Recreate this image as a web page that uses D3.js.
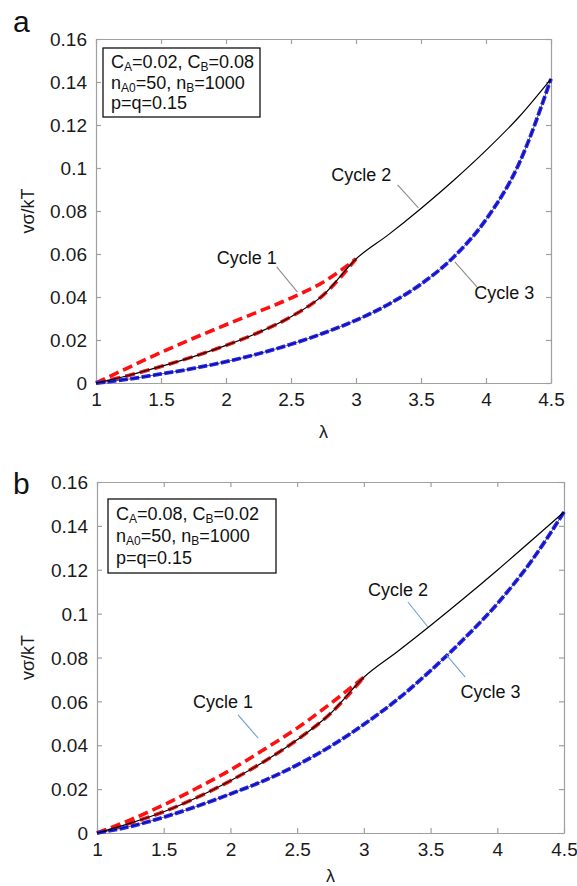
<!DOCTYPE html>
<html>
<head>
<meta charset="utf-8">
<script src="https://cdn.jsdelivr.net/npm/d3@7"></script>
<style>
  body { margin: 0; background: #fff; }
  svg { display: block; font-family: "Liberation Sans", Arial, sans-serif; }
</style>
</head>
<body>
<div id="chart"></div>
<script>
// data
const lamCycle1 = [1, 1.25, 1.5, 1.75, 2, 2.25, 2.5, 2.75, 3];
const lamCycle2 = [3, 3.25, 3.5, 3.75, 4, 4.25, 4.5];
const lamCycle3 = [1, 1.25, 1.5, 1.75, 2, 2.25, 2.5, 2.75, 3, 3.25, 3.5, 3.75, 4, 4.25, 4.5];

// panel a
const aCycle1Upper = [0, 0.0072, 0.0142, 0.0208, 0.0271, 0.0332, 0.0395, 0.047, 0.0577];
const aCycle1Lower = [0, 0.0035, 0.0077, 0.0123, 0.0175, 0.0235, 0.0308, 0.041, 0.0577];
const aCycle2 = [0.0577, 0.069, 0.0812, 0.0942, 0.1082, 0.1235, 0.1415];
const aCycle3 = [0, 0.0018, 0.0042, 0.0068, 0.0099, 0.0136, 0.018, 0.0232, 0.0292, 0.0366, 0.046, 0.0585, 0.076, 0.1015, 0.1415];

// panel b
const bCycle1Upper = [0, 0.006, 0.0128, 0.0205, 0.0287, 0.038, 0.0478, 0.059, 0.071];
const bCycle1Lower = [0, 0.0045, 0.0097, 0.0162, 0.0238, 0.0325, 0.0425, 0.0545, 0.071];
const bCycle2 = [0.071, 0.0826, 0.0946, 0.107, 0.1198, 0.133, 0.1463];
const bCycle3 = [0, 0.003, 0.0072, 0.0122, 0.0178, 0.0238, 0.031, 0.0395, 0.0495, 0.0608, 0.074, 0.0885, 0.1045, 0.1235, 0.1463];

// ticks
const xTicks = [1, 1.5, 2, 2.5, 3, 3.5, 4, 4.5];
const xTickLabels = ["1", "1.5", "2", "2.5", "3", "3.5", "4", "4.5"];
const yTicks = [0, 0.02, 0.04, 0.06, 0.08, 0.1, 0.12, 0.14, 0.16];
const yTickLabels = ["0", "0.02", "0.04", "0.06", "0.08", "0.1", "0.12", "0.14", "0.16"];

// legend text per panel
const aLegend = [
  [["C", ""], ["A", "sub"], ["=0.02, C", ""], ["B", "sub"], ["=0.08", ""]],
  [["n", ""], ["A0", "sub"], ["=50, n", ""], ["B", "sub"], ["=1000", ""]],
  [["p=q=0.15", ""]]
];
const bLegend = [
  [["C", ""], ["A", "sub"], ["=0.08, C", ""], ["B", "sub"], ["=0.02", ""]],
  [["n", ""], ["A0", "sub"], ["=50, n", ""], ["B", "sub"], ["=1000", ""]],
  [["p=q=0.15", ""]]
];

// annotations: label position and leader line, in data units [lambda, value]
const aNotes = [
  { text: "Cycle 1", at: [2.16, 0.0581], from: [2.39, 0.054], to: [2.55, 0.0423] },
  { text: "Cycle 2", at: [3.04, 0.0967], from: [3.32, 0.0921], to: [3.48, 0.0814] },
  { text: "Cycle 3", at: [4.14, 0.0419], from: [3.76, 0.0563], to: [3.93, 0.0447] }
];
const bNotes = [
  { text: "Cycle 1", at: [1.945, 0.0597], from: [2.057, 0.0538], to: [2.207, 0.0433] },
  { text: "Cycle 2", at: [3.256, 0.1108], from: [3.33, 0.1053], to: [3.48, 0.0939] },
  { text: "Cycle 3", at: [3.95, 0.0643], from: [3.62, 0.0811], to: [3.76, 0.0711] }
];

/** LAYOUT */
const width = 577, height = 886;
const panels = [
  { letter: "a", left: 96, right: 551, top: 39, bottom: 383, letterY: 32, lamDy: 55,
    upper: aCycle1Upper, lower: aCycle1Lower, c2: aCycle2, c3: aCycle3,
    legend: aLegend, notes: aNotes, leader: "#8c8c8c",
    box: { dx: 7, dy: 9, w: 157, h: 69 } },
  { letter: "b", left: 97, right: 564, top: 482, bottom: 833, letterY: 494, lamDy: 49,
    upper: bCycle1Upper, lower: bCycle1Lower, c2: bCycle2, c3: bCycle3,
    legend: bLegend, notes: bNotes, leader: "#6f9fcf",
    box: { dx: 11, dy: 17, w: 168, h: 74 } }
];

const svg = d3.select("#chart").append("svg")
  .attr("width", width)
  .attr("height", height);

panels.forEach(p => {
  const x = d3.scaleLinear().domain([1, 4.5]).range([p.left, p.right]);
  const y = d3.scaleLinear().domain([0, 0.16]).range([p.bottom, p.top]);
  const g = svg.append("g");

  const line = d3.line()
    .x(d => x(d[0]))
    .y(d => y(d[1]))
    .curve(d3.curveMonotoneX);

  const zip = (xs, ys) => xs.map((v, i) => [v, ys[i]]);

  // axes: inward ticks on all four sides, grey frame
  const tickLen = 5;
  const axes = [
    d3.axisBottom(x).tickValues(xTicks).tickSize(-tickLen).tickFormat((d, i) => xTickLabels[i]),
    d3.axisTop(x).tickValues(xTicks).tickSize(-tickLen).tickFormat(""),
    d3.axisLeft(y).tickValues(yTicks).tickSize(-tickLen).tickFormat((d, i) => yTickLabels[i]),
    d3.axisRight(y).tickValues(yTicks).tickSize(-tickLen).tickFormat("")
  ];
  const shifts = [[0, p.bottom], [0, p.top], [p.left, 0], [p.right, 0]];
  axes.forEach((ax, i) => {
    const a = g.append("g")
      .attr("transform", `translate(${shifts[i][0]},${shifts[i][1]})`)
      .call(ax.tickSizeOuter(0));
    a.select(".domain").attr("stroke", "#a0a0a0").attr("stroke-width", 1.2);
    a.selectAll(".tick line").attr("stroke", "#a0a0a0").attr("stroke-width", 1.2);
    a.selectAll(".tick text")
      .attr("fill", "#1a1a1a")
      .style("font-size", "19px");
    if (i === 0) a.selectAll(".tick text").attr("dy", "0.95em").attr("y", 5);
    if (i === 2) a.selectAll(".tick text").attr("x", -9).attr("dy", "0.35em");
  });

  // axis titles
  g.append("text")
    .attr("x", (p.left + p.right) / 2)
    .attr("y", p.bottom + p.lamDy)
    .attr("text-anchor", "middle")
    .style("font-size", "18px")
    .attr("fill", "#1a1a1a")
    .text("λ");
  g.append("text")
    .attr("transform", `translate(34,${(p.top + p.bottom) / 2}) rotate(-90)`)
    .attr("text-anchor", "middle")
    .style("font-size", "18px")
    .attr("fill", "#1a1a1a")
    .text("vσ/kT");

  // panel letter
  g.append("text")
    .attr("x", 13)
    .attr("y", p.letterY)
    .style("font-size", "30px")
    .attr("fill", "#111")
    .text(p.letter);

  // cycle 1 unloading (upper red dashed)
  g.append("path")
    .datum(zip(lamCycle1, p.upper))
    .attr("d", line)
    .attr("fill", "none")
    .attr("stroke", "#ff1010")
    .attr("stroke-width", 3.6)
    .attr("stroke-dasharray", "10,5");

  // cycle 1 loading (lower red dashed)
  g.append("path")
    .datum(zip(lamCycle1, p.lower))
    .attr("d", line)
    .attr("fill", "none")
    .attr("stroke", "#ff1010")
    .attr("stroke-width", 3.6)
    .attr("stroke-dasharray", "10,5");

  // cycle 3 (blue dashed)
  g.append("path")
    .datum(zip(lamCycle3, p.c3))
    .attr("d", line)
    .attr("fill", "none")
    .attr("stroke", "#2424ff")
    .attr("stroke-width", 3.8)
    .attr("stroke-dasharray", "9,2.5");

  // thin black curves: loading path through cycle 2, and the one under blue
  const blackPath = zip(lamCycle1, p.lower).concat(zip(lamCycle2, p.c2).slice(1));
  g.append("path")
    .datum(blackPath)
    .attr("d", line)
    .attr("fill", "none")
    .attr("stroke", "#000")
    .attr("stroke-width", 1.2);
  g.append("path")
    .datum(zip(lamCycle3, p.c3))
    .attr("d", line)
    .attr("fill", "none")
    .attr("stroke", "#000")
    .attr("stroke-width", 0.8)
    .attr("stroke-opacity", 0.8);

  // annotations
  p.notes.forEach(n => {
    g.append("line")
      .attr("x1", x(n.from[0])).attr("y1", y(n.from[1]))
      .attr("x2", x(n.to[0])).attr("y2", y(n.to[1]))
      .attr("stroke", p.leader)
      .attr("stroke-width", 1.1);
    g.append("text")
      .attr("x", x(n.at[0]))
      .attr("y", y(n.at[1]))
      .attr("dy", "0.35em")
      .attr("text-anchor", "middle")
      .style("font-size", "18px")
      .attr("fill", "#111")
      .text(n.text);
  });

  // legend box
  const bx = p.left + p.box.dx, by = p.top + p.box.dy;
  g.append("rect")
    .attr("x", bx).attr("y", by)
    .attr("width", p.box.w).attr("height", p.box.h)
    .attr("fill", "#fff")
    .attr("stroke", "#111")
    .attr("stroke-width", 1.3);
  const lineGap = (p.box.h - 8) / 3;
  p.legend.forEach((parts, i) => {
    const t = g.append("text")
      .attr("x", bx + 8)
      .attr("y", by + 4 + lineGap * (i + 0.5))
      .attr("dy", "0.35em")
      .style("font-size", "18px")
      .attr("fill", "#111");
    parts.forEach(([s, kind]) => {
      const span = t.append("tspan").text(s);
      if (kind === "sub") span.style("font-size", "12px").attr("baseline-shift", "-25%");
    });
  });
});
</script>
</body>
</html>
